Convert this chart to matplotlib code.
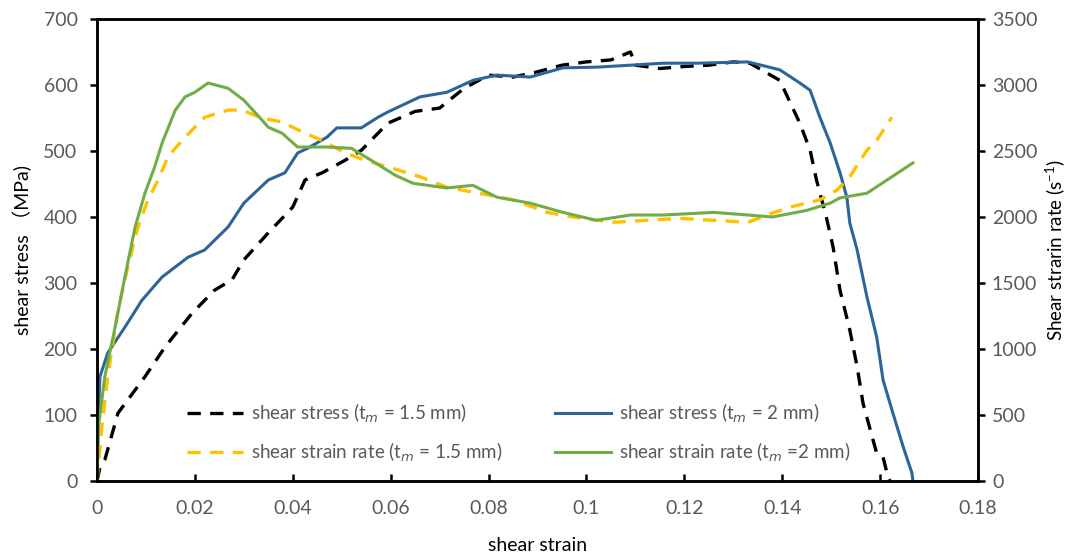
import numpy as np
import matplotlib.pyplot as plt

plt.rcParams['font.family'] = ['Lato', 'Noto Sans CJK SC', 'DejaVu Sans']

# shear stress, t_m = 1.5 mm
strain_a = [0, 0.0006, 0.0016, 0.0043, 0.0098, 0.0139, 0.0194, 0.024, 0.0276, 0.030,
            0.035, 0.040, 0.0425, 0.046, 0.0507, 0.054, 0.0594, 0.065, 0.070, 0.075,
            0.080, 0.085, 0.090, 0.095, 0.100, 0.105, 0.109, 0.110, 0.115, 0.120,
            0.125, 0.130, 0.1334, 0.1395, 0.1436, 0.1457, 0.147, 0.149, 0.1504, 0.1518,
            0.1538, 0.1553, 0.1565, 0.158, 0.1593, 0.1606, 0.1616, 0.162]
stress_a = [0, 20, 32, 103, 158, 203, 254, 289, 305, 335,
            376, 415, 456, 467, 486, 501, 542, 560, 565, 595,
            615, 612, 620, 630, 635, 638, 650, 630, 625, 628,
            630, 635, 633, 607, 542, 501, 456, 400, 354, 289,
            229, 173, 118, 77, 42, 36, 6, 0]

# shear stress, t_m = 2 mm
strain_b = [0, 0.0003, 0.0006, 0.0022, 0.0057, 0.0092, 0.0133, 0.0186, 0.022, 0.0268,
            0.030, 0.035, 0.0384, 0.041, 0.043, 0.047, 0.049, 0.054, 0.0574, 0.0594,
            0.066, 0.0715, 0.0768, 0.0817, 0.0885, 0.0952, 0.102, 0.109, 0.1156, 0.1226,
            0.133, 0.1395, 0.1436, 0.1457, 0.1477, 0.1498, 0.1518, 0.1532, 0.1538, 0.1553,
            0.1573, 0.1593, 0.1606, 0.1626, 0.1647, 0.1665, 0.1667]
stress_b = [0, 100, 158, 194, 233, 274, 309, 339, 350, 385,
            421, 456, 467, 497, 504, 521, 535, 535, 551, 559,
            582, 589, 607, 615, 612, 626, 627, 630, 633, 633,
            635, 623, 603, 592, 551, 512, 467, 430, 391, 350,
            279, 218, 153, 103, 52, 12, 0]

# shear strain rate, t_m = 1.5 mm
strain_c = [0, 0.001, 0.0022, 0.0043, 0.0063, 0.0084, 0.0104, 0.0125, 0.0145, 0.0174,
            0.020, 0.022, 0.0268, 0.0296, 0.0337, 0.0378, 0.0419, 0.046, 0.0507, 0.0548,
            0.0594, 0.066, 0.0715, 0.078, 0.085, 0.092, 0.0972, 0.1054, 0.1124, 0.119,
            0.126, 0.133, 0.1369, 0.1416, 0.1477, 0.1512, 0.1538, 0.1573, 0.1593, 0.162,
            0.1624]
rate_c = [0, 410, 790, 1295, 1620, 1925, 2130, 2280, 2455, 2580,
          2680, 2755, 2810, 2810, 2750, 2720, 2645, 2580, 2485, 2430,
          2380, 2305, 2225, 2180, 2130, 2035, 2000, 1960, 1975, 1990,
          1975, 1960, 2015, 2075, 2130, 2205, 2305, 2505, 2580, 2735,
          2755]

# shear strain rate, t_m = 2 mm
strain_d = [0, 0.0003, 0.0016, 0.0037, 0.0057, 0.0078, 0.0098, 0.0118, 0.0133, 0.016,
            0.018, 0.020, 0.0227, 0.0268, 0.030, 0.0337, 0.035, 0.0378, 0.041, 0.047,
            0.052, 0.056, 0.061, 0.0646, 0.0715, 0.0768, 0.0817, 0.0885, 0.0952, 0.102,
            0.109, 0.1156, 0.126, 0.133, 0.138, 0.145, 0.1498, 0.1518, 0.1573, 0.1614,
            0.1667]
rate_d = [0, 410, 790, 1165, 1545, 1925, 2180, 2380, 2560, 2810,
          2910, 2945, 3015, 2975, 2885, 2735, 2680, 2635, 2530, 2530,
          2520, 2430, 2315, 2255, 2220, 2240, 2150, 2105, 2035, 1975,
          2015, 2015, 2035, 2015, 2000, 2050, 2105, 2145, 2180, 2280,
          2410]

fig, ax = plt.subplots(figsize=(10.75, 5.55), dpi=100)
fig.subplots_adjust(left=0.0902, right=0.9098, bottom=0.1333, top=0.9658)
ax2 = ax.twinx()

black = '#000000'
blue = '#2E6599'
yellow = '#FFC000'
green = '#70AD47'
dash = (0, (4, 2.8))

l1, = ax.plot(strain_a, stress_a, color=black, lw=2.4, ls=dash)
l2, = ax.plot(strain_b, stress_b, color=blue, lw=2.2)
l3, = ax2.plot(strain_c, rate_c, color=yellow, lw=2.4, ls=dash)
l4, = ax2.plot(strain_d, rate_d, color=green, lw=2.2)

ax.set_xlim(0, 0.18)
ax.set_ylim(0, 700)
ax2.set_ylim(0, 3500)
ax.set_xticks(np.arange(0, 0.181, 0.02))
ax.set_xticklabels(['0', '0.02', '0.04', '0.06', '0.08', '0.1', '0.12', '0.14', '0.16', '0.18'])
ax.set_yticks(np.arange(0, 701, 100))
ax2.set_yticks(np.arange(0, 3501, 500))

grey = '#595959'
for a in (ax, ax2):
    for s in a.spines.values():
        s.set_linewidth(1.8)
        s.set_color('black')
    a.tick_params(axis='y', direction='out', length=5, width=1.8, colors='black',
                  labelcolor=grey, labelsize=14, pad=9)
ax.tick_params(axis='x', direction='in', length=5, width=1.8, colors='black',
               labelcolor=grey, labelsize=14, pad=14)
ax2.tick_params(axis='y', pad=5)

ax.set_xlabel('shear strain', fontsize=14, color='black', labelpad=14)
ax.set_ylabel('shear stress （MPa)', fontsize=14, color='black', labelpad=8)
ax2.set_ylabel('Shear strarin rate (s$^{\\mathregular{-1}}$)', fontsize=13.5,
               color='black', labelpad=4)

leg = ax.legend([l1, l3, l2, l4],
                ['shear stress (t$_{m}$ = 1.5 mm)',
                 'shear strain rate (t$_{m}$ = 1.5 mm)',
                 'shear stress (t$_{m}$ = 2 mm)',
                 'shear strain rate (t$_{m}$ =2 mm)'],
                ncol=2, frameon=False, fontsize=13.5, handlelength=3.0,
                columnspacing=2.8, labelspacing=0.85, handletextpad=0.4,
                loc='lower left', bbox_to_anchor=(0.083, 0.0))
for t in leg.get_texts():
    t.set_color(grey)

fig.savefig('out.png', dpi=100)
